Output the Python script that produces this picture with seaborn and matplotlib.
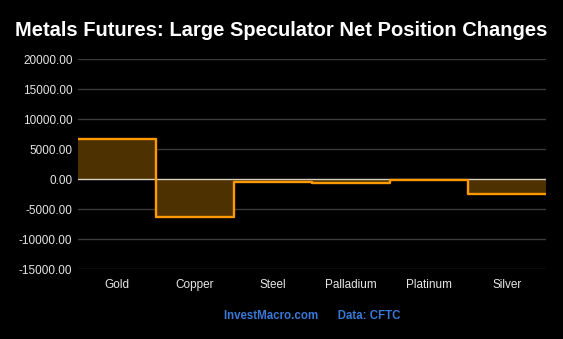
import numpy as np
import matplotlib
matplotlib.use("Agg")
import matplotlib.pyplot as plt
import seaborn as sns

categories = ["Gold", "Copper", "Steel", "Palladium", "Platinum", "Silver"]
net_changes = [6700, -6250, -450, -720, -170, -2450]
yticks = [20000, 15000, 10000, 5000, 0, -5000, -10000, -15000]

sns.set_theme(style="dark")
plt.rcParams['font.family'] = ['Liberation Sans', 'DejaVu Sans']

fig = plt.figure(figsize=(5.63, 3.39), dpi=100, facecolor="black")
ax = fig.add_axes([78/563, 70/339, 468/563, 210/339])
ax.set_facecolor("black")

n = len(categories)
edges = np.arange(n + 1) - 0.5
vals = list(net_changes) + [net_changes[-1]]

ax.fill_between(edges, 0, vals, step="post", color="#4d3100", linewidth=0, zorder=1)
for t in yticks:
    ax.axhline(t, color="#3a3a3a" if t != 0 else "#d8d0c0", linewidth=1, zorder=0 if t != 0 else 2)
sns.lineplot(x=edges, y=vals, drawstyle="steps-post", color="#ff9900", linewidth=1.7,
             ax=ax, zorder=3, solid_joinstyle="round")

ax.set_xlim(-0.5, n - 0.5)
ax.set_ylim(-15000, 20000)
ax.set_xticks(range(n))
ax.set_xticklabels(categories)
ax.set_yticks(yticks)
ax.set_yticklabels([f"{t:.2f}" for t in yticks])
ax.tick_params(axis="both", colors="#e6e6e6", labelsize=8.5, length=0)
ax.tick_params(axis="y", pad=4)
ax.tick_params(axis="x", pad=7)
ax.grid(False)
for s in ax.spines.values():
    s.set_visible(False)

fig.text(0.5, 0.91, "Metals Futures: Large Speculator Net Position Changes",
         ha="center", va="center", color="white", fontsize=14.5, fontweight="bold")
fig.text(0.555, 0.068, "InvestMacro.com      Data: CFTC", ha="center", va="center",
         color="#3a78d8", fontsize=8.3, fontweight="bold")

fig.savefig("out.png", dpi=100, facecolor="black")
